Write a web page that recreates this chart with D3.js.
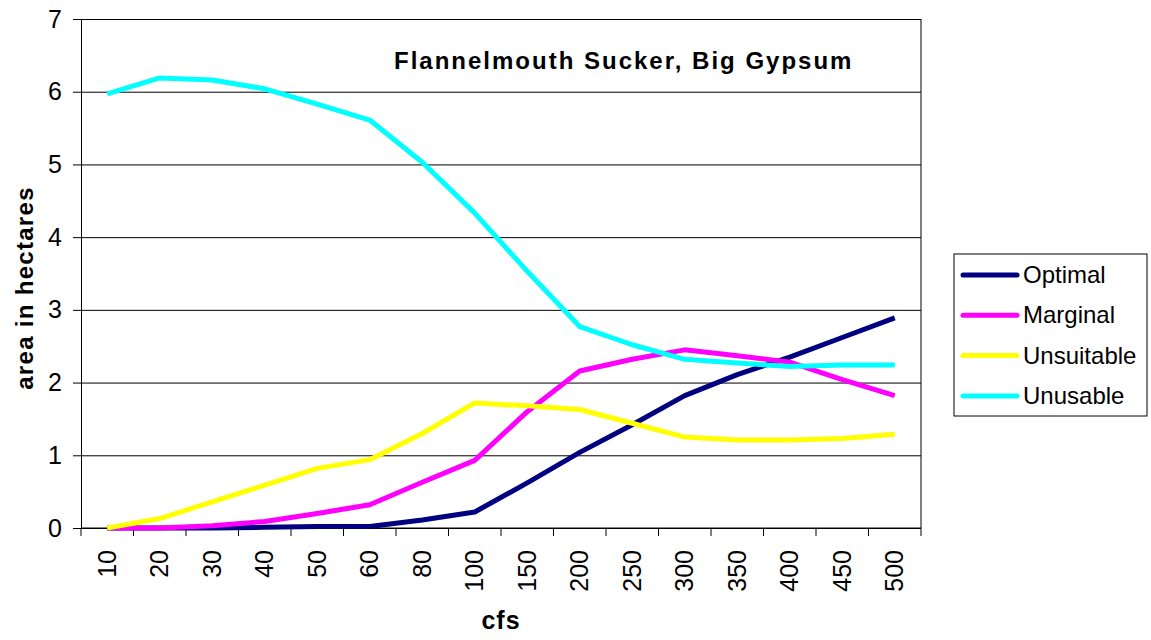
<!DOCTYPE html>
<html>
<head>
<meta charset="utf-8">
<script src="https://cdn.jsdelivr.net/npm/d3@7"></script>
<style>
  body { margin: 0; background: #fff; }
  text { font-family: "Liberation Sans", Arial, sans-serif; fill: #000; }
</style>
</head>
<body>
<script>
// chart values
const categories = ["10", "20", "30", "40", "50", "60", "80", "100", "150", "200", "250", "300", "350", "400", "450", "500"];
const optimal    = [0, 0, 0, 0.01, 0.02, 0.02, 0.11, 0.22, 0.62, 1.04, 1.42, 1.82, 2.11, 2.35, 2.62, 2.89];
const marginal   = [0, 0, 0.03, 0.09, 0.2, 0.32, 0.63, 0.93, 1.6, 2.16, 2.32, 2.45, 2.37, 2.28, 2.04, 1.82];
const unsuitable = [0, 0.13, 0.36, 0.59, 0.82, 0.94, 1.3, 1.72, 1.68, 1.63, 1.44, 1.25, 1.21, 1.21, 1.23, 1.29];
const unusable   = [5.97, 6.19, 6.16, 6.04, 5.83, 5.61, 5.03, 4.33, 3.53, 2.77, 2.52, 2.32, 2.27, 2.22, 2.24, 2.24];
const seriesNames = ["Optimal", "Marginal", "Unsuitable", "Unusable"];
const seriesColors = ["#000080", "#ff00ff", "#ffff00", "#00ffff"];
const yTicks = [0, 1, 2, 3, 4, 5, 6, 7];

const series = [optimal, marginal, unsuitable, unusable];

const width = 1151, height = 640;
const plotLeft = 81, plotRight = 921, plotTop = 19, plotBottom = 528;

const svg = d3.select("body").append("svg")
  .attr("width", width)
  .attr("height", height);

const x = d3.scaleBand().domain(categories).range([plotLeft, plotRight]).padding(0);
const y = d3.scaleLinear().domain([0, 7]).range([plotBottom, plotTop]);

// gridlines
svg.append("g")
  .attr("transform", `translate(${plotLeft},0)`)
  .call(d3.axisLeft(y).tickValues(yTicks).tickSize(-(plotRight - plotLeft)).tickFormat(""))
  .call(g => g.select(".domain").remove())
  .call(g => g.selectAll("line").attr("stroke", "#000").attr("stroke-width", 1));

// plot border (right side)
svg.append("line")
  .attr("x1", plotRight).attr("x2", plotRight)
  .attr("y1", plotTop).attr("y2", plotBottom)
  .attr("stroke", "#000");

// y axis
svg.append("g")
  .attr("transform", `translate(${plotLeft},0)`)
  .call(d3.axisLeft(y).tickValues(yTicks).tickFormat(d3.format("d")).tickSize(8).tickPadding(11))
  .call(g => g.select(".domain").attr("stroke", "#000"))
  .call(g => g.selectAll("text").attr("font-size", 25).attr("font-family", "Liberation Sans, Arial, sans-serif"));

// x axis line
svg.append("line")
  .attr("x1", plotLeft).attr("x2", plotRight)
  .attr("y1", plotBottom).attr("y2", plotBottom)
  .attr("stroke", "#000");

// x ticks between categories
const bounds = categories.map(c => x(c)).concat([plotRight]);
svg.append("g").selectAll("line")
  .data(bounds)
  .join("line")
  .attr("x1", d => d).attr("x2", d => d)
  .attr("y1", plotBottom).attr("y2", plotBottom + 8)
  .attr("stroke", "#000");

// x tick labels, rotated
svg.append("g").selectAll("text")
  .data(categories)
  .join("text")
  .attr("transform", d => `translate(${x(d) + x.bandwidth() / 2 + 8.5},${plotBottom + 22}) rotate(-90)`)
  .attr("text-anchor", "end")
  .attr("font-size", 25)
  .text(d => d);

// lines
const line = d3.line()
  .x((d, i) => x(categories[i]) + x.bandwidth() / 2)
  .y(d => y(d));

svg.append("g").selectAll("path")
  .data(series)
  .join("path")
  .attr("d", d => line(d))
  .attr("fill", "none")
  .attr("stroke", (d, i) => seriesColors[i])
  .attr("stroke-width", 5)
  .attr("stroke-linejoin", "round");

// title inside plot
svg.append("text")
  .attr("x", 394)
  .attr("y", 69)
  .attr("font-size", 24)
  .attr("font-weight", "bold")
  .attr("letter-spacing", 2)
  .text("Flannelmouth Sucker, Big Gypsum");

// axis titles
svg.append("text")
  .attr("x", (plotLeft + plotRight) / 2)
  .attr("y", 629)
  .attr("text-anchor", "middle")
  .attr("font-size", 25)
  .attr("font-weight", "bold")
  .attr("letter-spacing", 1)
  .text("cfs");

svg.append("text")
  .attr("transform", `translate(33,288) rotate(-90)`)
  .attr("text-anchor", "middle")
  .attr("font-size", 24)
  .attr("font-weight", "bold")
  .attr("letter-spacing", 1.3)
  .text("area in hectares");

// legend
const legend = svg.append("g");
legend.append("rect")
  .attr("x", 954).attr("y", 254)
  .attr("width", 193).attr("height", 162)
  .attr("fill", "#fff")
  .attr("stroke", "#000");

const rows = legend.selectAll("g.row")
  .data(seriesNames)
  .join("g")
  .attr("class", "row")
  .attr("transform", (d, i) => `translate(0,${275 + i * 40.3})`);

rows.append("line")
  .attr("x1", 963).attr("x2", 1017)
  .attr("y1", 0).attr("y2", 0)
  .attr("stroke", (d, i) => seriesColors[i])
  .attr("stroke-width", 5)
  .attr("stroke-linecap", "round");

rows.append("text")
  .attr("x", 1023)
  .attr("y", 8)
  .attr("font-size", 24)
  .text(d => d);
</script>
</body>
</html>
